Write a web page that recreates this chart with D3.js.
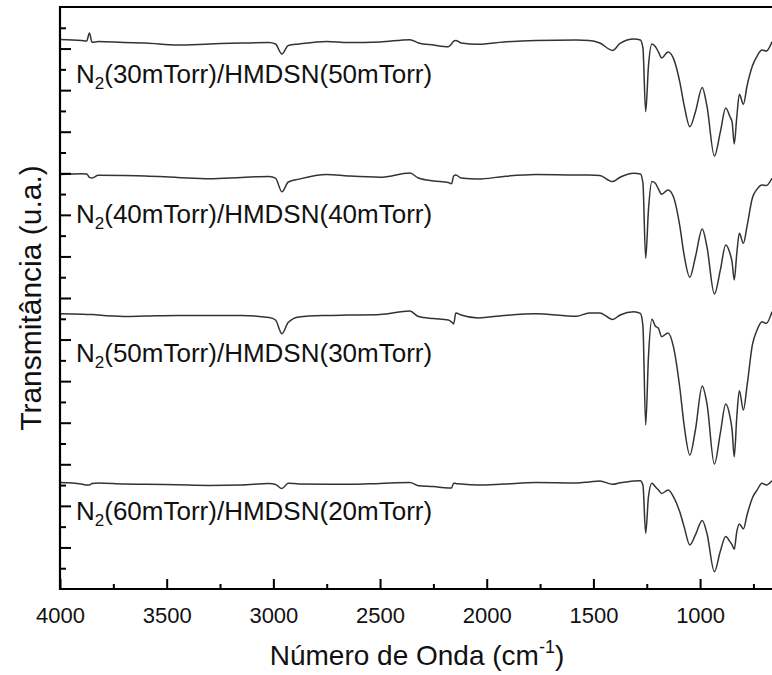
<!DOCTYPE html>
<html>
<head>
<meta charset="utf-8">
<script src="https://cdn.jsdelivr.net/npm/d3@7/dist/d3.min.js"></script>
<style>
	body { margin: 0; background: #fff; }
	svg text { font-family: Arial, "Liberation Sans", sans-serif; fill: #111; }
</style>
</head>
<body>
<div id="chart"></div>
<script>
// wavenumbers (cm-1) shared by the four spectra
var wavenumbers = [4000, 3900, 3875, 3862, 3850, 3820, 3700, 3600, 3450, 3300, 3150, 3020, 2990, 2960, 2930,
	2880, 2750, 2650, 2500, 2360, 2320, 2250, 2180, 2165, 2155, 2145, 2120, 2040, 1920, 1770, 1580, 1520,
	1470, 1410, 1375, 1310, 1280, 1268, 1255, 1242, 1226, 1210, 1195, 1180, 1150, 1125, 1095, 1075, 1048,
	1022, 990, 968, 933, 905, 880, 860, 850, 840, 828, 816, 797, 780, 755, 733, 710, 690, 663];

// stacked transmittance (u.a.), top to bottom
var n30h50 = [26.44, 26.39, 26.36, 26.75, 26.30, 26.34, 26.29, 26.27, 26.17, 26.22, 26.27, 26.29, 26.22, 25.74, 26.15,
	26.22, 26.34, 26.29, 26.32, 26.43, 26.27, 26.17, 26.09, 26.22, 26.36, 26.39, 26.27, 26.21, 26.32, 26.39, 26.41, 26.39,
	26.27, 25.91, 26.25, 26.46, 26.41, 26.03, 22.96, 25.16, 26.22, 26.10, 25.83, 25.55, 25.84, 25.53, 24.39, 23.28, 22.24,
	22.95, 24.13, 23.24, 20.83, 21.99, 23.14, 22.72, 22.47, 21.41, 22.71, 23.80, 23.32, 24.20, 25.16, 25.64, 25.93, 25.88, 26.33];

var n40h40 = [19.94, 19.98, 19.97, 19.80, 19.77, 19.90, 19.89, 19.87, 19.80, 19.74, 19.80, 19.85, 19.77, 19.11, 19.58,
	19.72, 19.94, 19.87, 19.81, 20.01, 19.77, 19.63, 19.56, 19.50, 19.87, 19.92, 19.77, 19.72, 19.85, 19.94, 19.92, 19.92,
	19.89, 19.60, 19.81, 20.00, 19.97, 19.53, 15.91, 18.24, 19.60, 19.52, 19.24, 18.99, 19.20, 18.87, 17.46, 16.07, 15.00,
	15.97, 17.32, 16.47, 14.19, 15.35, 16.55, 16.15, 15.73, 14.87, 16.15, 17.11, 16.63, 17.46, 18.81, 19.24, 19.44, 19.41, 19.76];

var n50h30 = [13.24, 13.22, 13.21, 13.21, 13.21, 13.18, 13.11, 13.13, 13.16, 13.16, 13.16, 13.06, 12.94, 12.28, 12.83,
	13.09, 13.16, 13.18, 13.21, 13.37, 13.11, 13.01, 12.94, 12.85, 12.75, 13.28, 13.18, 13.04, 13.16, 13.24, 13.12, 13.28,
	13.28, 12.97, 13.18, 13.34, 13.26, 12.65, 7.89, 11.18, 12.98, 12.65, 12.54, 12.14, 12.32, 11.66, 9.67, 7.89, 6.45,
	7.65, 9.77, 8.93, 6.01, 7.51, 8.90, 8.29, 7.65, 6.36, 8.29, 9.54, 8.61, 9.77, 11.74, 12.46, 12.86, 12.78, 13.34];

var n60h20 = [5.12, 5.05, 5.00, 5.00, 5.08, 5.10, 5.05, 5.04, 5.01, 4.98, 5.00, 5.07, 5.03, 4.83, 5.09,
	5.05, 5.04, 5.04, 5.08, 5.12, 4.97, 4.93, 4.86, 4.86, 5.09, 5.08, 5.05, 5.00, 5.05, 5.12, 5.10, 5.15,
	5.20, 5.04, 5.11, 5.20, 5.21, 5.00, 2.68, 4.44, 5.09, 4.92, 4.76, 4.60, 4.76, 4.44, 3.70, 3.00, 2.12,
	2.60, 3.29, 2.68, 0.83, 1.83, 2.52, 2.28, 2.12, 1.91, 2.76, 3.13, 2.89, 3.56, 4.38, 4.76, 5.09, 5.00, 5.21];

var seriesNames = [["30", "50"], ["40", "40"], ["50", "30"], ["60", "20"]];
var xTicks = [4000, 3500, 3000, 2500, 2000, 1500, 1000];

var W = 772, H = 675;
var margin = {top: 7, right: 0, bottom: 86, left: 60};
var width = W - margin.left - margin.right;
var height = H - margin.top - margin.bottom;

var svg = d3.select("#chart").append("svg")
	.attr("width", W)
	.attr("height", H);

var g = svg.append("g")
	.attr("transform", "translate(" + margin.left + "," + margin.top + ")");

var x = d3.scaleLinear().domain([4000, 663]).range([0, width]);
var y = d3.scaleLinear().domain([0, 28]).range([height, 0]);

// spectra
var line = d3.line()
	.x(function(d) { return x(d[0]); })
	.y(function(d) { return y(d[1]); })
	.curve(d3.curveMonotoneX);

var allSeries = [n30h50, n40h40, n50h30, n60h20];
allSeries.forEach(function(vals){
	g.append("path")
		.datum(wavenumbers.map(function(w, i){ return [w, vals[i]]; }))
		.attr("fill", "none")
		.attr("stroke", "#333")
		.attr("stroke-width", 1.5)
		.attr("d", line);
});

// labels with N2 subscript
var labelY = [24.32, 17.63, 10.92, 3.34];
seriesNames.forEach(function(n, i){
	var t = g.append("text")
		.attr("x", 16)
		.attr("y", y(labelY[i]))
		.attr("font-size", 26);
	t.append("tspan").text("N");
	t.append("tspan").attr("font-size", 17).attr("dy", 6).text("2");
	t.append("tspan").attr("dy", -6).text("(" + n[0] + "mTorr)/HMDSN(" + n[1] + "mTorr)");
});

// x axis, ticks inside
var xMinor = d3.range(3750, 650, -500);
g.append("g")
	.attr("transform", "translate(0," + height + ")")
	.call(d3.axisBottom(x).tickValues(xMinor).tickSize(-5).tickFormat(""))
	.call(function(s){ s.select(".domain").remove(); s.selectAll("line").attr("stroke-width", 2); });

var xAxis = g.append("g")
	.attr("transform", "translate(0," + height + ")")
	.call(d3.axisBottom(x).tickValues(xTicks).tickSize(-10).tickPadding(18).tickFormat(d3.format("d")));
xAxis.select(".domain").remove();
xAxis.selectAll("line").attr("stroke-width", 2);
xAxis.selectAll("text").attr("font-size", 22).attr("fill", "#111").attr("font-family", "Arial, 'Liberation Sans', sans-serif");

// y axis, ticks inside, no labels
var yAxis = g.append("g")
	.call(d3.axisLeft(y).tickValues(d3.range(1, 28)).tickSize(0).tickFormat(""));
yAxis.select(".domain").remove();
yAxis.selectAll(".tick").append("line")
	.attr("x2", function(d){ return d % 2 === 0 ? 11 : 6; })
	.attr("stroke", "#000")
	.attr("stroke-width", 2);

// frame: left, bottom, top (no right side, cropped)
g.append("path")
	.attr("d", "M" + width + ",0H0V" + height + "H" + width)
	.attr("fill", "none")
	.attr("stroke", "#000")
	.attr("stroke-width", 2.2);

// axis titles
var xt = svg.append("text")
	.attr("x", 417)
	.attr("y", 665)
	.attr("text-anchor", "middle")
	.attr("font-size", 28);
xt.append("tspan").text("Número de Onda (cm");
xt.append("tspan").attr("font-size", 18).attr("dy", -12).text("-1");
xt.append("tspan").attr("dy", 12).text(")");

svg.append("text")
	.attr("transform", "translate(41," + (margin.top + height / 2) + ") rotate(-90)")
	.attr("text-anchor", "middle")
	.attr("font-size", 30)
	.text("Transmitância (u.a.)");
</script>
</body>
</html>
